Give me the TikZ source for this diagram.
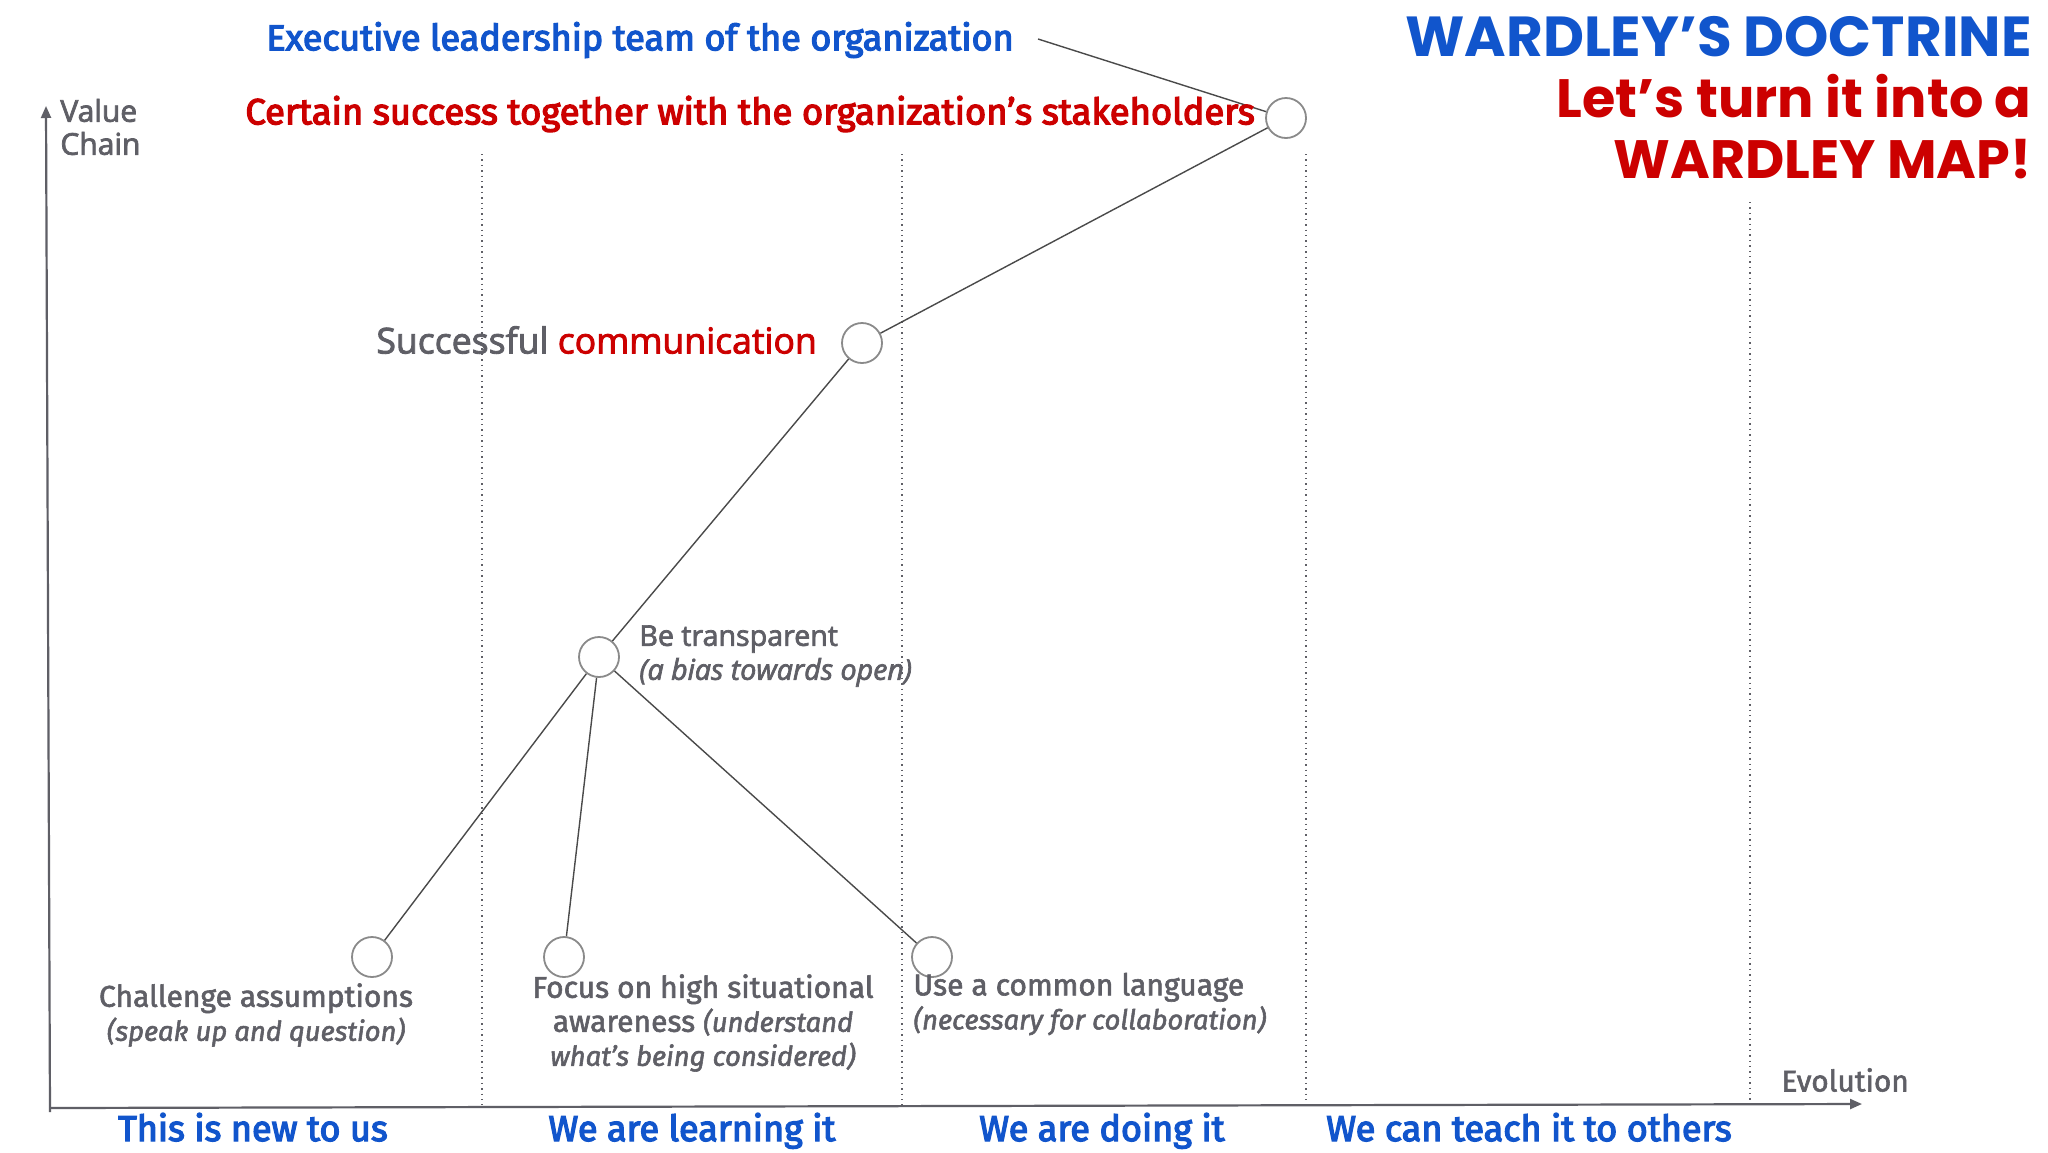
\documentclass[tikz,border=0pt]{standalone}
\usepackage{fontspec}
\setmainfont{Fira Sans}
\newfontfamily\medfont[FakeBold=2]{Fira Sans}
\newfontfamily\semifont[FakeBold=3.5]{Fira Sans}
\newfontfamily\widefont[FakeBold=2.5]{Open Sans}
\newfontfamily\titlefont{Poppins}
\usetikzlibrary{arrows.meta}
\definecolor{wblue}{HTML}{1155CC}
\definecolor{wred}{HTML}{CC0000}
\definecolor{wgray}{HTML}{5F5F66}
\definecolor{wline}{HTML}{4A4A4A}
\definecolor{wcirc}{HTML}{8A8A8A}
\newcommand{\itl}[1]{{\fontsize{13.7}{17}\selectfont\itshape #1}}
\tikzset{
  comp/.style={circle, draw=wcirc, line width=0.9pt, fill=white, minimum size=20pt, inner sep=0pt},
  link/.style={draw=wline, line width=0.7pt},
  gridline/.style={draw=wgray, dotted, line width=0.7pt},
  axisline/.style={draw=wgray, line width=1.1pt, -{Triangle[length=6pt,width=5pt]}},
  lbl/.style={text=wgray, inner sep=0pt, font=\medfont\fontsize{15}{17}\selectfont},
  stage/.style={text=wblue, inner sep=0pt, anchor=base, font=\semifont\fontsize{18}{20}\selectfont},
  head/.style={inner sep=0pt, font=\semifont\fontsize{18}{20}\selectfont},
  ttl/.style={inner sep=0pt, align=right, font=\titlefont\bfseries\fontsize{27}{30.5}\selectfont}
}
\begin{document}
\begin{tikzpicture}[x=0.5pt,y=-0.5pt]
\useasboundingbox (0,0) rectangle (2048,1152);
\fill[white] (0,0) rectangle (2048,1152);

% grid lines
\draw[gridline] (482,154) -- (482,1105);
\draw[gridline] (902,154) -- (902,1105);
\draw[gridline] (1306,154) -- (1306,1105);
\draw[gridline] (1750,202) -- (1750,1105);

% axes
\coordinate (yb) at (50,1112);
\coordinate (yt) at (46,106);
\coordinate (xl) at (50,1108);
\coordinate (xr) at (1862,1104);
\draw[axisline] (yb) -- (yt);
\draw[axisline] (xl) -- (xr);

\node[text=wgray, inner sep=0pt, anchor=west, align=left, font=\widefont\fontsize{15}{16.5}\selectfont] (vc) at (60,127) {Value\\Chain};
\node[lbl, anchor=west, font=\medfont\fontsize{14.9}{17}\selectfont] (evo) at (1781,1080) {Evolution};

% components
\node[comp] (top) at (1286,118) {};
\node[comp] (comm) at (862,343) {};
\node[comp] (transp) at (599,657) {};
\node[comp] (chal) at (372,957) {};
\node[comp] (focus) at (564,957) {};
\node[comp] (lang) at (932,957) {};

\coordinate (execend) at (1038,39);
\draw[link] (execend) -- (top);
\draw[link] (top) -- (comm);
\draw[link] (comm) -- (transp);
\draw[link] (transp) -- (chal);
\draw[link] (transp) -- (focus);
\draw[link] (transp) -- (lang);

% texts
\node[head, text=wblue, anchor=west] (exec) at (266,40) {Executive leadership team of the organization};
\node[head, text=wred, anchor=west, font=\semifont\fontsize{18.2}{20}\selectfont] (cert) at (245,114) {Certain success together with the organization’s stakeholders};
\node[text=wgray, inner sep=0pt, anchor=west, font=\widefont\fontsize{17.8}{20}\selectfont] (commt) at (376,340) {Successful \textcolor{wred}{communication}};
\node[text=wgray, inner sep=0pt, anchor=west, align=left, font=\widefont\fontsize{14.3}{17}\selectfont] (transpt) at (639,656) {Be transparent\\\textit{(a bias towards open)}};
\node[lbl, align=center] (chalt) at (256,1015) {Challenge assumptions\\\itl{(speak up and question)}};
\node[lbl, align=center] (focust) at (703,1023) {Focus on high situational\\awareness \itl{(understand}\\\itl{what’s being considered)}};
\node[lbl, align=left, anchor=west] (langt) at (913,1004) {Use a common language\\\itl{(necessary for collaboration)}};

% stages
\node[stage] (s1) at (253,1141) {This is new to us};
\node[stage] (s2) at (692,1141) {We are learning it};
\node[stage] (s3) at (1102,1141) {We are doing it};
\node[stage] (s4) at (1529,1141) {We can teach it to others};

% title
\node[ttl, anchor=east] (title) at (2032,98) {\textcolor{wblue}{\fontsize{28.2}{30.5}\selectfont WARDLEY’S DOCTRINE}\\\textcolor{wred}{Let’s turn it into a}\\\textcolor{wred}{WARDLEY MAP!}};
\end{tikzpicture}
\end{document}
